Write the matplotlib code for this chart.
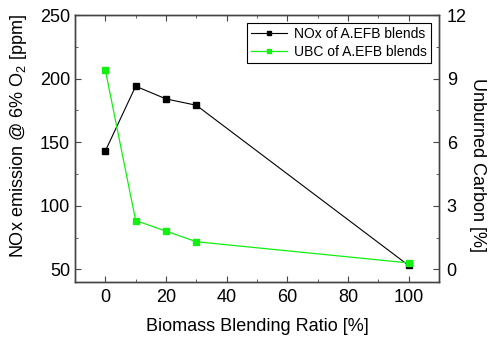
import matplotlib
matplotlib.use('Agg')
import matplotlib.pyplot as plt
from matplotlib.ticker import MultipleLocator

plt.rcParams['font.family'] = ['Liberation Sans', 'DejaVu Sans']
plt.rcParams['mathtext.fontset'] = 'custom'
plt.rcParams['mathtext.rm'] = 'Liberation Sans'
plt.rcParams['mathtext.it'] = 'Liberation Sans'

# data
blend_ratio = [0, 10, 20, 30, 100]
nox_ppm = [143, 194, 184, 179, 53]
ubc_pct = [9.4, 2.3, 1.8, 1.3, 0.3]

green = '#11f011'
spine_col = '#444444'

fig = plt.figure(figsize=(4.9, 3.38), dpi=100)
ax = fig.add_axes([75 / 490, 1 - 282 / 338, 364 / 490, 267 / 338])
ax2 = ax.twinx()

l1, = ax.plot(blend_ratio, nox_ppm, color='black', lw=0.8, marker='s', ms=5,
              label='NOx of A.EFB blends')
l2, = ax2.plot(blend_ratio, ubc_pct, color=green, lw=0.9, marker='s', ms=5,
               label='UBC of A.EFB blends')

ax.set_xlim(-10, 110)
ax.set_ylim(40, 250)
ax2.set_ylim(-0.6, 12)

ax.xaxis.set_major_locator(MultipleLocator(20))
ax.xaxis.set_minor_locator(MultipleLocator(10))
ax.yaxis.set_major_locator(MultipleLocator(50))
ax.yaxis.set_minor_locator(MultipleLocator(25))
ax2.yaxis.set_major_locator(MultipleLocator(3))
ax2.yaxis.set_minor_locator(MultipleLocator(1.5))

ax.tick_params(axis='both', which='both', direction='in', top=True,
               labelsize=13, colors=spine_col, labelcolor='black')
ax.tick_params(axis='y', pad=3.5)
ax.tick_params(axis='x', pad=5)
ax.tick_params(which='major', length=4)
ax.tick_params(which='minor', length=2.5)
ax2.tick_params(axis='y', which='both', direction='in', labelsize=13,
                colors=spine_col, labelcolor='black', pad=5.5)
ax2.tick_params(which='major', length=4)
ax2.tick_params(which='minor', length=2.5)

for a in (ax, ax2):
    for s in a.spines.values():
        s.set_color(spine_col)
        s.set_linewidth(1.0)

ax.set_xlabel('Biomass Blending Ratio [%]', fontsize=13, labelpad=9)
ax.set_ylabel('NOx emission @ 6% O$_2$ [ppm]', fontsize=13, labelpad=8)
ax.yaxis.label.set_y(0.545)
ax2.set_ylabel('Unburned Carbon [%]', fontsize=13, rotation=270, labelpad=14)
ax2.yaxis.label.set_y(0.44)

leg = ax.legend(handles=[l1, l2], loc='upper right', fontsize=10,
                fancybox=False, framealpha=1, edgecolor='black',
                borderpad=0.3, handlelength=2.6, handletextpad=0.5,
                labelspacing=0.3, borderaxespad=0.55, markerscale=0.6)
leg.get_frame().set_linewidth(0.8)

fig.savefig('out.png', dpi=100)
